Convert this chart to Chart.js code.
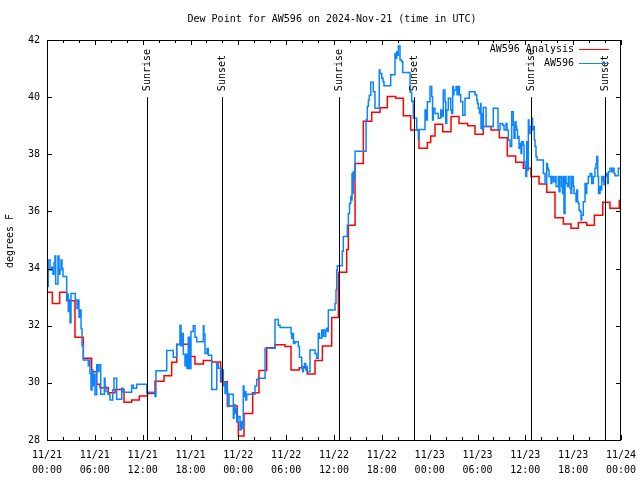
<!DOCTYPE html>
<html>
<head>
<meta charset="utf-8">
<script src="https://cdn.jsdelivr.net/npm/chart.js@4"></script>
<style>
  html, body { margin: 0; padding: 0; background: #fff; }
  canvas { display: block; }
</style>
</head>
<body>
<canvas id="dewChart" width="640" height="480"></canvas>
<script>
"use strict";

// hours since 11/21 00:00 UTC, dew point in F
const analysisSeries = [
  [0.00,33.17],[0.67,32.78],[1.59,33.17],[2.47,32.87],[3.51,31.60],[4.56,30.86],[5.60,30.39],[6.23,29.95],
  [6.65,29.83],[7.69,29.65],[8.53,29.77],[9.66,29.32],[10.62,29.40],[11.58,29.54],[12.59,29.63],[13.55,30.06],
  [14.68,30.25],[15.64,30.72],[16.27,31.35],[17.94,30.92],[18.56,30.66],[19.61,30.78],[20.66,30.73],[21.78,30.04],
  [22.62,29.19],[23.87,28.62],[24.00,28.14],[24.71,28.93],[25.80,29.65],[26.59,30.43],[27.56,31.23],[28.60,31.33],
  [29.85,31.27],[30.61,30.45],[31.65,30.53],[32.65,30.31],[33.62,30.78],[34.54,31.29],[35.71,32.29],[36.55,33.87],
  [37.59,34.67],[37.80,35.52],[38.64,37.68],[39.68,39.16],[40.73,39.47],[41.77,39.63],[42.69,40.02],[43.74,39.96],
  [44.70,39.35],[45.62,38.85],[46.66,38.21],[47.71,38.41],[48.13,38.64],[48.67,39.05],[49.63,38.79],[50.68,39.32],
  [51.68,39.08],[52.77,39.00],[53.69,38.70],[54.73,38.97],[55.70,38.85],[56.74,38.58],[57.74,37.94],[58.79,37.72],
  [59.75,37.51],[60.71,37.22],[61.72,36.96],[62.68,36.67],[63.72,35.78],[64.77,35.56],[65.73,35.41],[66.65,35.61],
  [67.70,35.52],[68.66,35.87],[69.71,36.32],[70.62,36.11],[71.79,36.38],[72.00,36.38]
];

const stationSeries = [
  [0.00,33.37],[0.16,34.30],[0.38,33.95],[0.59,34.05],[0.75,33.80],[0.88,34.20],[1.00,34.44],[1.09,33.46],
  [1.38,34.44],[1.51,33.80],[1.63,33.95],[1.76,34.30],[1.88,34.00],[2.01,33.72],[2.47,32.90],[2.57,33.10],
  [2.67,32.50],[2.76,32.90],[2.89,32.10],[3.01,33.13],[3.55,32.90],[3.76,32.60],[3.89,32.90],[4.01,32.30],
  [4.14,32.55],[4.27,31.90],[4.39,31.30],[4.55,30.80],[5.18,30.60],[5.27,30.80],[5.39,30.33],[5.52,29.75],
  [5.64,30.45],[5.77,29.90],[5.90,30.30],[6.02,29.58],[6.23,30.63],[6.40,30.40],[6.52,30.63],[6.74,29.60],
  [7.19,30.16],[7.28,29.87],[7.40,29.70],[7.65,29.60],[7.90,29.40],[8.24,29.75],[8.40,30.16],[8.74,29.43],
  [9.37,29.81],[9.57,29.67],[10.62,29.92],[10.83,29.81],[11.25,29.95],[12.51,29.67],[13.55,29.52],[13.67,30.42],
  [15.02,31.13],[15.84,30.90],[16.27,31.33],[16.68,32.02],[16.81,31.30],[16.93,31.73],[17.10,31.00],[17.31,30.60],
  [17.44,31.00],[17.56,30.50],[17.72,31.60],[17.88,30.50],[18.06,31.80],[18.35,32.00],[18.57,31.60],[18.78,31.44],
  [19.61,32.00],[19.69,31.70],[19.82,31.03],[20.07,31.20],[20.23,30.97],[20.66,29.77],[21.29,30.68],[21.49,30.51],
  [21.83,30.10],[21.95,30.45],[22.12,29.90],[22.20,30.04],[22.33,29.63],[22.45,29.98],[22.58,29.70],[22.67,29.17],
  [22.83,29.60],[23.37,28.76],[23.46,29.23],[23.58,28.93],[23.71,29.10],[23.80,28.64],[23.96,28.82],[24.21,28.35],
  [24.34,28.64],[24.46,28.40],[24.62,29.89],[24.71,29.52],[24.84,29.69],[24.94,29.40],[25.05,29.60],[26.09,29.89],
  [26.31,30.12],[26.51,30.16],[27.35,31.21],[28.60,32.22],[29.01,32.02],[29.23,31.94],[30.61,31.73],[30.68,31.56],
  [30.77,31.73],[30.92,31.38],[31.11,31.44],[31.52,31.27],[31.67,30.90],[31.95,30.51],[32.05,30.39],[32.15,30.57],
  [32.30,30.68],[32.45,30.45],[32.55,30.57],[32.65,30.39],[32.99,31.15],[33.62,31.03],[33.81,30.86],[34.03,31.73],
  [34.18,31.56],[34.46,31.85],[34.56,31.62],[34.66,31.85],[34.87,31.62],[34.97,31.85],[35.09,31.91],[35.19,31.80],
  [35.29,32.55],[36.13,32.78],[36.25,33.25],[36.34,33.95],[36.42,34.10],[37.04,34.61],[37.17,35.12],[37.67,35.52],
  [37.80,35.93],[37.95,36.28],[38.10,36.52],[38.17,36.40],[38.26,37.33],[38.35,36.63],[38.42,37.39],[38.51,37.10],
  [38.57,37.39],[38.64,38.11],[40.02,39.20],[40.18,39.67],[40.31,39.90],[40.43,40.07],[40.61,40.52],[40.93,40.19],
  [41.14,39.61],[41.68,40.95],[41.77,40.83],[41.99,40.66],[42.15,40.54],[42.27,40.40],[43.11,40.78],[43.65,41.53],
  [43.78,41.36],[43.87,41.59],[43.97,41.47],[44.07,41.79],[44.28,41.30],[44.49,41.24],[44.62,40.86],[45.54,40.17],
  [45.75,39.86],[45.95,39.26],[46.38,38.85],[46.58,38.52],[46.66,38.87],[47.42,39.55],[47.54,39.20],[47.71,39.84],
  [48.04,40.37],[48.26,40.02],[48.36,39.20],[48.46,39.61],[48.67,39.43],[49.08,39.26],[49.39,39.55],[49.55,39.32],
  [49.71,40.25],[49.92,39.84],[50.02,39.08],[50.14,39.55],[50.34,39.96],[50.64,39.55],[50.77,39.43],[50.89,40.37],
  [50.97,40.08],[51.05,40.25],[51.31,40.37],[51.43,40.08],[51.59,40.37],[51.74,40.08],[51.89,39.84],[52.15,39.37],
  [52.43,39.96],[52.97,40.19],[53.69,40.08],[53.90,39.90],[54.00,39.78],[54.10,39.61],[54.25,39.43],[54.40,39.78],
  [54.44,38.91],[54.53,39.43],[54.63,38.85],[54.73,39.64],[55.07,38.97],[55.98,39.61],[56.57,38.85],[56.83,39.08],
  [57.16,39.02],[57.33,38.85],[57.58,39.08],[57.70,38.85],[57.87,38.50],[58.08,38.27],[58.29,39.49],[58.49,39.02],
  [58.58,38.56],[58.71,39.14],[58.83,38.97],[58.92,38.85],[59.02,38.56],[59.12,38.62],[59.21,38.21],[59.33,38.38],
  [59.46,38.03],[59.55,38.44],[59.75,38.32],[59.84,37.74],[59.96,37.57],[60.06,37.22],[60.17,38.44],[60.27,37.45],
  [60.38,39.20],[60.46,38.73],[60.59,38.97],[60.80,39.26],[60.90,38.85],[61.00,38.97],[61.13,38.50],[61.22,38.27],
  [61.34,37.92],[61.47,37.80],[62.26,37.33],[62.47,36.98],[62.68,37.68],[62.78,37.51],[62.88,37.45],[62.97,37.22],
  [63.22,36.98],[63.31,37.22],[63.51,37.04],[63.72,37.22],[63.85,36.87],[64.14,37.22],[64.23,36.69],[64.35,37.22],
  [64.56,36.87],[64.67,36.63],[64.77,37.22],[64.85,35.93],[64.98,37.22],[65.10,36.98],[65.29,36.87],[65.39,37.22],
  [65.60,36.81],[65.73,36.63],[65.82,37.22],[66.02,36.87],[66.11,36.63],[66.36,36.34],[66.45,36.75],[66.55,36.34],
  [66.65,36.28],[66.74,36.05],[66.86,35.99],[66.99,35.70],[67.07,35.87],[67.27,36.34],[67.49,36.98],[67.61,36.63],
  [67.70,36.98],[67.90,37.22],[68.12,37.33],[68.33,36.98],[68.53,37.22],[68.74,37.51],[68.87,37.68],[68.96,37.92],
  [69.08,37.22],[69.18,36.63],[69.37,36.87],[69.50,36.75],[69.58,37.22],[69.79,37.04],[69.87,36.93],[70.00,37.22],
  [70.21,37.33],[70.31,36.98],[70.41,37.39],[70.62,37.51],[70.84,37.39],[71.04,37.51],[71.13,37.33],[71.25,37.25],
  [71.67,37.51],[72.00,37.51]
];

// sunrise / sunset markers (hours), drawn from eventTop down to the axis
const eventTimes = [12.58, 21.99, 36.67, 46.08, 60.75, 70.03];
const eventNames = ['Sunrise', 'Sunset', 'Sunrise', 'Sunset', 'Sunrise', 'Sunset'];
const eventTop = 40;

const tickDates = ['11/21','11/21','11/21','11/21','11/22','11/22','11/22','11/22','11/23','11/23','11/23','11/23','11/24'];
const tickTimes = ['00:00','06:00','12:00','18:00','00:00','06:00','12:00','18:00','00:00','06:00','12:00','18:00','00:00'];

const seriesNames = ['AW596 Analysis', 'AW596'];
const seriesColors = ['#ff0000', '#0a84ff'];

const titleText = 'Dew Point for AW596 on 2024-Nov-21 (time in UTC)';
const yTitle = 'degrees F';

const FONT = '10px "DejaVu Sans Mono", "Liberation Mono", monospace';

function toPoints(series) {
  return series.map(function (p) { return { x: p[0], y: p[1] }; });
}

// gnuplot look: inward ticks, border, title, legend, sunrise/sunset lines
const gnuplotDecor = {
  id: 'gnuplotDecor',
  afterDatasetsDraw(chart) {
    const ctx = chart.ctx, xs = chart.scales.x, ys = chart.scales.y;
    const bottom = chart.chartArea.bottom;
    ctx.save();
    ctx.strokeStyle = '#000';
    ctx.lineWidth = 1;
    ctx.fillStyle = '#000';
    ctx.font = FONT;
    eventTimes.forEach(function (t, i) {
      const px = Math.round(xs.getPixelForValue(t)) + 0.5;
      const top = ys.getPixelForValue(eventTop);
      ctx.beginPath();
      ctx.moveTo(px, top);
      ctx.lineTo(px, bottom);
      ctx.stroke();

      ctx.save();
      ctx.translate(px, top - 6);
      ctx.rotate(-Math.PI / 2);
      ctx.textAlign = 'left';
      ctx.textBaseline = 'middle';
      ctx.fillText(eventNames[i], 0, 0);
      ctx.restore();
    });
    ctx.restore();
  },
  afterDraw(chart) {
    const ctx = chart.ctx, a = chart.chartArea;
    const xs = chart.scales.x, ys = chart.scales.y;
    ctx.save();
    ctx.strokeStyle = '#000';
    ctx.lineWidth = 1;

    // border
    ctx.strokeRect(a.left + 0.5, a.top + 0.5, a.right - a.left - 1, a.bottom - a.top);

    // x ticks every 2 h, longer every 6 h, top and bottom
    ctx.beginPath();
    for (let h = xs.min; h <= xs.max; h += 2) {
      const px = Math.round(xs.getPixelForValue(h)) + 0.5;
      const len = (h % 6 === 0) ? 5 : 3;
      ctx.moveTo(px, a.bottom);
      ctx.lineTo(px, a.bottom - len);
      ctx.moveTo(px, a.top);
      ctx.lineTo(px, a.top + len);
    }
    // y ticks, left and right
    ys.ticks.forEach(function (t) {
      const py = Math.round(ys.getPixelForValue(t.value)) + 0.5;
      ctx.moveTo(a.left, py);
      ctx.lineTo(a.left + 5, py);
      ctx.moveTo(a.right, py);
      ctx.lineTo(a.right - 5, py);
    });
    ctx.stroke();

    ctx.fillStyle = '#000';
    ctx.font = FONT;

    // title
    ctx.textAlign = 'center';
    ctx.textBaseline = 'middle';
    ctx.fillText(titleText, (a.left + a.right) / 2 - 2, 19);

    // y axis title
    ctx.save();
    ctx.translate(10, (a.top + a.bottom) / 2 + 1);
    ctx.rotate(-Math.PI / 2);
    ctx.fillText(yTitle, 0, 0);
    ctx.restore();

    // legend, top right inside plot
    seriesNames.forEach(function (name, i) {
      const y = a.top + 9 + i * 14;
      ctx.textAlign = 'right';
      ctx.fillStyle = '#000';
      ctx.fillText(name, a.right - 47, y);
      ctx.strokeStyle = seriesColors[i];
      ctx.lineWidth = 1;
      ctx.beginPath();
      ctx.moveTo(a.right - 42, y + 0.5);
      ctx.lineTo(a.right - 12, y + 0.5);
      ctx.stroke();
    });
    ctx.restore();
  }
};

Chart.defaults.color = '#000';
Chart.defaults.font.family = '"DejaVu Sans Mono", "Liberation Mono", monospace';
Chart.defaults.font.size = 10;

// keep the plot box fixed, whatever the tick labels want
function fixBox(w, h) {
  return function (s) {
    if (w) { s.width = w; }
    if (h) { s.height = h; }
    s.paddingLeft = 0;
    s.paddingRight = 0;
    s.paddingTop = 0;
    s.paddingBottom = 0;
  };
}

new Chart(document.getElementById('dewChart').getContext('2d'), {
  type: 'line',
  data: {
    datasets: [{
      label: seriesNames[0],
      data: toPoints(analysisSeries),
      borderColor: seriesColors[0],
      borderWidth: 1.5,
      stepped: true,
      pointRadius: 0,
      fill: false,
      order: 2
    }, {
      label: seriesNames[1],
      data: toPoints(stationSeries),
      borderColor: seriesColors[1],
      borderWidth: 1.5,
      stepped: true,
      pointRadius: 0,
      fill: false,
      order: 1
    }]
  },
  options: {
    responsive: false,
    animation: false,
    events: [],
    layout: { padding: { left: 0, right: 19, top: 40, bottom: 0 } },
    plugins: {
      legend: { display: false },
      title: { display: false },
      tooltip: { enabled: false }
    },
    scales: {
      x: {
        type: 'linear',
        min: 0,
        max: 72,
        grid: { display: false, drawTicks: false },
        border: { display: false },
        afterFit: fixBox(0, 40),
        ticks: {
          stepSize: 6,
          autoSkip: false,
          maxRotation: 0,
          padding: 8,
          font: { lineHeight: 1.5 },
          callback: function (value) {
            const i = Math.round(value / 6);
            return [tickDates[i], tickTimes[i]];
          }
        }
      },
      y: {
        type: 'linear',
        min: 28,
        max: 42,
        grid: { display: false, drawTicks: false },
        border: { display: false },
        afterFit: fixBox(47, 0),
        ticks: { stepSize: 2, padding: 7 }
      }
    }
  },
  plugins: [gnuplotDecor]
});
</script>
</body>
</html>
